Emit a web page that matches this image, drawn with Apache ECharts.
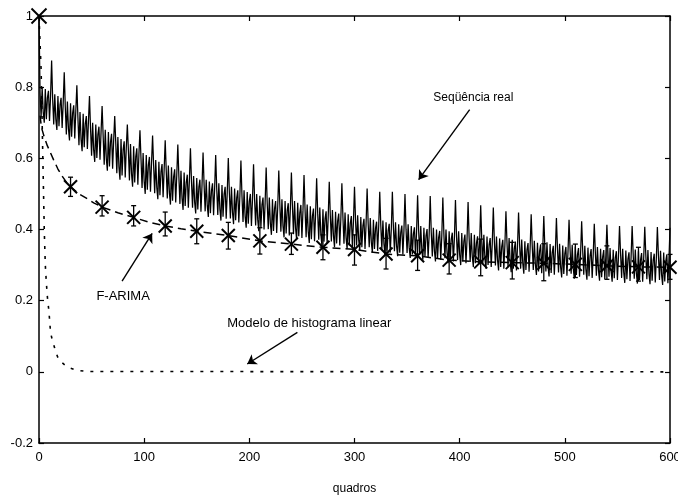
<!DOCTYPE html>
<html>
<head>
<meta charset="utf-8">
<script src="https://cdn.jsdelivr.net/npm/echarts@6/dist/echarts.min.js"></script>
<style>
html,body{margin:0;padding:0;background:#fff;}
#chart{width:678px;height:500px;}
</style>
</head>
<body>
<div id="chart"></div>
<script>
// ---- Seqüência real: autocorrelation for lags 0..600 (12 lags per row) ----
const realSeq = [
1.00, .785, .715, .80, .73, .70, .795, .71, .77, .79, .705, .775,
.875, .765, .695, .78, .71, .68, .775, .69, .75, .77, .685, .755,
.842, .744, .667, .76, .683, .65, .755, .661, .727, .749, .656, .733,
.805, .714, .637, .73, .653, .62, .725, .631, .697, .719, .626, .703,
.775, .684, .607, .70, .623, .59, .695, .601, .667, .689, .596, .673,
.747, .663, .582, .68, .60, .565, .674, .577, .646, .669, .571, .651,
.719, .642, .558, .66, .576, .54, .654, .552, .624, .648, .546, .63,
.695, .622, .538, .64, .556, .52, .634, .532, .604, .628, .526, .61,
.679, .598, .517, .615, .535, .50, .609, .512, .581, .604, .506, .586,
.664, .579, .502, .595, .518, .485, .59, .496, .562, .584, .491, .568,
.651, .564, .487, .58, .503, .47, .575, .481, .547, .569, .476, .553,
.639, .549, .472, .565, .488, .455, .56, .466, .532, .554, .461, .538,
.628, .534, .461, .55, .477, .445, .545, .456, .519, .54, .45, .524,
.616, .524, .451, .54, .467, .435, .535, .446, .509, .53, .44, .514,
.609, .514, .441, .53, .457, .425, .525, .436, .499, .52, .43, .504,
.601, .504, .431, .52, .447, .415, .515, .426, .489, .51, .42, .494,
.594, .494, .421, .51, .437, .405, .505, .416, .479, .50, .41, .484,
.583, .484, .411, .50, .427, .395, .495, .406, .469, .49, .40, .474,
.574, .474, .401, .49, .417, .385, .485, .396, .459, .48, .39, .464,
.566, .469, .394, .485, .41, .378, .48, .389, .453, .474, .383, .458,
.56, .464, .387, .48, .403, .37, .475, .381, .447, .469, .376, .453,
.553, .454, .378, .47, .394, .362, .465, .373, .438, .459, .367, .443,
.544, .446, .371, .462, .387, .355, .457, .366, .43, .451, .36, .435,
.534, .439, .366, .455, .382, .35, .45, .361, .424, .445, .355, .429,
.53, .433, .36, .448, .376, .345, .443, .355, .417, .438, .35, .422,
.52, .425, .355, .44, .37, .34, .435, .35, .41, .43, .345, .415,
.515, .417, .35, .432, .364, .335, .427, .345, .403, .422, .34, .408,
.506, .411, .344, .425, .359, .33, .42, .34, .397, .416, .335, .401,
.506, .406, .339, .42, .354, .325, .415, .335, .392, .411, .33, .396,
.50, .401, .334, .415, .349, .32, .41, .33, .387, .406, .325, .391,
.496, .396, .329, .41, .344, .315, .405, .325, .382, .401, .32, .386,
.494, .391, .324, .405, .339, .31, .40, .32, .377, .396, .315, .381,
.49, .386, .319, .40, .334, .305, .395, .315, .372, .391, .31, .376,
.483, .381, .314, .395, .329, .30, .39, .31, .367, .386, .305, .371,
.477, .376, .309, .39, .324, .295, .385, .305, .362, .381, .30, .366,
.468, .371, .304, .385, .319, .29, .38, .30, .357, .376, .295, .361,
.462, .366, .299, .38, .314, .285, .375, .295, .352, .371, .29, .356,
.451, .362, .294, .376, .309, .28, .371, .29, .347, .366, .285, .352,
.448, .358, .29, .372, .305, .276, .367, .286, .343, .362, .281, .348,
.443, .354, .286, .368, .301, .272, .363, .282, .339, .358, .277, .344,
.438, .35, .282, .364, .297, .268, .359, .278, .335, .354, .273, .34,
.432, .346, .279, .36, .294, .265, .355, .275, .332, .351, .27, .336,
.427, .343, .276, .357, .291, .262, .352, .272, .329, .348, .267, .333,
.423, .34, .273, .354, .288, .259, .349, .269, .326, .345, .264, .33,
.416, .337, .27, .351, .285, .256, .346, .266, .323, .342, .261, .327,
.413, .334, .267, .348, .282, .253, .343, .263, .32, .339, .258, .324,
.41, .332, .264, .346, .279, .25, .341, .26, .317, .336, .255, .322,
.41, .33, .262, .344, .277, .248, .339, .258, .315, .334, .253, .32,
.408, .328, .26, .342, .275, .246, .337, .256, .313, .332, .251, .318,
.407, .326, .258, .34, .273, .244, .335, .254, .311, .33, .249, .316,
.405
];

// ---- F-ARIMA model curve (dashed) ----
const farimaX = [1, 2, 3, 5, 8, 11, 14, 18, 22, 26, 30, 38, 45, 52, 60, 75, 90, 105, 120, 135, 150, 180, 210, 240, 270, 300, 330, 360, 390, 420, 450, 480, 510, 540, 570, 600];
const farimaY = [.72, .695, .68, .66, .635, .615, .595, .57, .55, .533, .52, .50, .488, .475, .463, .447, .434, .42, .41, .402, .395, .383, .368, .359, .35, .344, .331, .326, .314, .309, .307, .305, .302, .298, .295, .294];

// ---- F-ARIMA sample points with error bars ----
const markLags = [0, 30, 60, 90, 120, 150, 180, 210, 240, 270, 300, 330, 360, 390, 420, 450, 480, 510, 540, 570, 600];
const markVals = [1.0, .52, .463, .434, .41, .395, .383, .368, .359, .35, .344, .331, .326, .314, .309, .307, .305, .302, .298, .295, .294];
const markLo   = [1.0, .493, .438, .41, .382, .36, .345, .331, .33, .315, .30, .289, .285, .275, .27, .261, .256, .265, .26, .255, .26];
const markHi   = [1.0, .547, .495, .467, .449, .43, .42, .405, .39, .385, .385, .375, .37, .36, .373, .364, .36, .359, .354, .35, .33];

// ---- Modelo de histograma linear (dotted) ----
const histX = [0, 2, 3, 4, 5, 6, 7, 8, 9.5, 11, 13, 14.6, 16, 18, 21, 25, 30, 35, 45, 600];
const histY = [1.0, .85, .70, .55, .40, .30, .25, .21, .168, .11, .085, .07, .055, .04, .028, .018, .01, .005, .001, 0];

// ---- annotations (data coordinates) ----
const labelTexts = ['Seqüência real', 'F-ARIMA', 'Modelo de histograma linear'];
const labelPos = [[413, 0.77], [80, 0.212], [257, 0.137]];
const arrowFrom = [[409.5, 0.737], [79, 0.255], [245.7, 0.111]];
const arrowTo = [[361, 0.54], [107.6, 0.389], [198, 0.022]];

const xTickInterval = 100;
const yTickInterval = 0.2;

const FONT = "'Liberation Sans', Arial, Helvetica, sans-serif";
const chart = echarts.init(document.getElementById('chart'), null, {renderer: 'canvas'});

const axisLineStyle = {color: '#000', width: 1.5};
const tickStyle = {show: true, inside: true, length: 5, lineStyle: {color: '#000', width: 1.2}};

const option = {
  animation: false,
  backgroundColor: '#fff',
  grid: {left: 39, right: 8, top: 16, bottom: 57, containLabel: false, outerBoundsMode: 'none'},
  xAxis: [
    {type: 'value', min: 0, max: 600, interval: xTickInterval, position: 'bottom',
     axisLine: {show: true, onZero: false, lineStyle: axisLineStyle},
     axisTick: tickStyle, splitLine: {show: false},
     axisLabel: {color: '#000', fontSize: 13, fontFamily: FONT, margin: 8},
     name: 'quadros', nameLocation: 'middle', nameGap: 40,
     nameTextStyle: {color: '#000', fontSize: 12, fontFamily: FONT}},
    {type: 'value', min: 0, max: 600, interval: xTickInterval, position: 'top',
     axisLine: {show: true, onZero: false, lineStyle: axisLineStyle},
     axisTick: tickStyle, splitLine: {show: false}, axisLabel: {show: false}}
  ],
  yAxis: [
    {type: 'value', min: -0.2, max: 1, interval: yTickInterval, position: 'left',
     axisLine: {show: true, onZero: false, lineStyle: axisLineStyle},
     axisTick: tickStyle, splitLine: {show: false},
     axisLabel: {color: '#000', fontSize: 13, fontFamily: FONT, margin: 6}},
    {type: 'value', min: -0.2, max: 1, interval: yTickInterval, position: 'right',
     axisLine: {show: true, onZero: false, lineStyle: axisLineStyle},
     axisTick: tickStyle, splitLine: {show: false}, axisLabel: {show: false}}
  ],
  series: [
    {
      name: 'Seqüência real', type: 'line', xAxisIndex: 0, yAxisIndex: 0,
      data: realSeq.map((v, i) => [i, v]),
      showSymbol: false, symbol: 'none',
      lineStyle: {color: '#000', width: 1.25},
      z: 2,
      markLine: {
        silent: true, symbol: ['none', 'arrow'], symbolSize: 9,
        lineStyle: {type: 'solid', color: '#000', width: 1.4},
        label: {show: false},
        data: arrowFrom.map((f, i) => [{coord: f}, {coord: arrowTo[i]}])
      },
      markPoint: {
        silent: true, symbol: 'rect', symbolSize: 1,
        itemStyle: {color: 'rgba(0,0,0,0)'},
        label: {show: true, position: 'inside', color: '#000', fontFamily: FONT,
                formatter: p => p.name},
        data: labelTexts.map((t, i) => ({name: t, coord: labelPos[i],
              label: {fontSize: i === 0 ? 12 : 13}}))
      }
    },
    {
      name: 'F-ARIMA', type: 'line', xAxisIndex: 0, yAxisIndex: 0,
      data: farimaX.map((x, i) => [x, farimaY[i]]),
      showSymbol: false, symbol: 'none',
      lineStyle: {color: '#000', width: 1.5, type: [8, 5]},
      z: 3
    },
    {
      name: 'F-ARIMA pontos', type: 'custom', xAxisIndex: 0, yAxisIndex: 0,
      data: markLags.map((x, i) => [x, markVals[i], markLo[i], markHi[i]]),
      z: 4,
      renderItem: function (params, api) {
        const c = api.coord([api.value(0), api.value(1)]);
        const lo = api.coord([api.value(0), api.value(2)]);
        const hi = api.coord([api.value(0), api.value(3)]);
        const s = api.value(0) === 0 ? 7.5 : 6.5;
        const st = {stroke: '#000', lineWidth: 2};
        const kids = [
          {type: 'line', shape: {x1: c[0] - s, y1: c[1] - s, x2: c[0] + s, y2: c[1] + s}, style: st},
          {type: 'line', shape: {x1: c[0] - s, y1: c[1] + s, x2: c[0] + s, y2: c[1] - s}, style: st}
        ];
        if (Math.abs(lo[1] - hi[1]) > 0.5) {
          const bs = {stroke: '#000', lineWidth: 1.3};
          kids.push({type: 'line', shape: {x1: c[0], y1: lo[1], x2: c[0], y2: hi[1]}, style: bs});
          kids.push({type: 'line', shape: {x1: c[0] - 2.5, y1: lo[1], x2: c[0] + 2.5, y2: lo[1]}, style: bs});
          kids.push({type: 'line', shape: {x1: c[0] - 2.5, y1: hi[1], x2: c[0] + 2.5, y2: hi[1]}, style: bs});
        }
        return {type: 'group', children: kids};
      }
    },
    {
      name: 'Modelo de histograma linear', type: 'line', xAxisIndex: 0, yAxisIndex: 0,
      data: histX.map((x, i) => [x, histY[i]]),
      showSymbol: false, symbol: 'none',
      lineStyle: {color: '#000', width: 1.6, type: [3, 7]},
      z: 3
    }
  ]
};
chart.setOption(option);
</script>
</body>
</html>
